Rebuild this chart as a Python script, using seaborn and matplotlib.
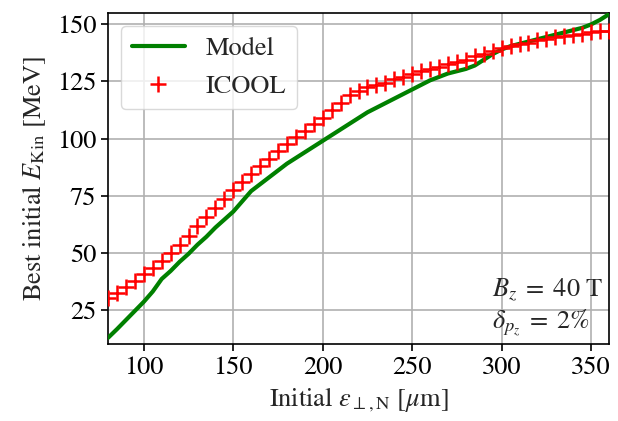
import numpy as np
import pandas as pd
import matplotlib
matplotlib.use("Agg")
import matplotlib.pyplot as plt
import seaborn as sns

# Initial normalised transverse emittance [um]
emittance = list(range(80, 361, 5))

# Analytical model: best initial kinetic energy [MeV]
model_ekin = [12.7, 16.5, 20.5, 24.5, 28.5, 33.0, 38.5, 42.0, 46.0, 49.5,
              53.5, 57.0, 61.0, 64.5, 68.0, 72.5, 77.0, 80.0, 83.0, 86.0,
              89.0, 91.5, 94.0, 96.5, 99.0, 101.5, 104.0, 106.5, 109.0, 111.5,
              113.5, 115.5, 117.5, 119.5, 121.5, 123.5, 125.5, 127.0, 128.5, 129.5,
              130.5, 132.0, 134.5, 137.0, 139.0, 140.5, 141.5, 142.5, 143.5, 144.5,
              145.5, 146.5, 147.5, 148.5, 150.0, 152.0, 154.5]

# ICOOL tracking: best initial kinetic energy [MeV]
icool_ekin = [30.0, 32.5, 35.0, 37.5, 40.5, 43.5, 46.5, 50.0, 53.5, 57.5,
              61.5, 65.5, 69.5, 73.5, 77.5, 81.0, 84.5, 88.0, 91.0, 94.5,
              97.5, 100.5, 103.5, 106.5, 109.0, 112.5, 115.5, 119.0, 121.0, 122.5,
              123.5, 124.5, 126.0, 127.0, 128.5, 129.5, 130.5, 131.5, 132.5, 133.5,
              134.5, 136.0, 137.0, 138.5, 139.5, 140.5, 141.5, 142.0, 143.0, 143.5,
              144.5, 145.0, 145.5, 146.0, 146.5, 147.0, 147.0]

x_ticks = [100, 150, 200, 250, 300, 350]
y_ticks = [25, 50, 75, 100, 125, 150]

sns.set_style("ticks")
plt.rcParams.update({
    "font.family": ["STIXGeneral", "DejaVu Serif"],
    "mathtext.fontset": "stix",
    "font.size": 19,
    "axes.linewidth": 1.2,
    "xtick.major.width": 1.2,
    "ytick.major.width": 1.2,
    "xtick.major.size": 5,
    "ytick.major.size": 5,
    "xtick.color": "black",
    "ytick.color": "black",
    "axes.edgecolor": "black",
})

df = pd.DataFrame({"eps": emittance, "model": model_ekin, "icool": icool_ekin})

fig = plt.figure(figsize=(6.18, 4.21), dpi=100)
ax = fig.add_axes([0.1748, 0.1829, 0.8106, 0.7862])

sns.lineplot(data=df, x="eps", y="model", ax=ax, color="green", lw=3,
             label="Model", zorder=3)
sns.lineplot(data=df, x="eps", y="icool", ax=ax, color="red", linestyle="",
             marker="+", markersize=11, markeredgewidth=1.8,
             markeredgecolor="red", markerfacecolor="red", label="ICOOL",
             zorder=4)

ax.set_xlim(80, 360)
ax.set_ylim(10, 155)
ax.set_xticks(x_ticks)
ax.set_yticks(y_ticks)
ax.grid(True, color="#b0b0b0", lw=1.2)
ax.set_axisbelow(True)

ax.set_xlabel(r"Initial $\varepsilon_{\perp,\mathrm{N}}$ [$\mu$m]", fontsize=19,
              labelpad=4)
ax.set_ylabel(r"Best initial $E_{\mathrm{Kin}}$ [MeV]", fontsize=19, labelpad=6)
ax.tick_params(labelsize=19)

leg = ax.legend(loc="upper left", fontsize=19, framealpha=0.8,
                edgecolor="#d0d0d0", handlelength=2.0, borderpad=0.4,
                borderaxespad=0.5)

ax.text(0.766, 0.163, r"$B_z \;=\; 40\ \mathrm{T}$", transform=ax.transAxes,
        ha="left", va="center", fontsize=19)
ax.text(0.766, 0.066, r"$\delta_{p_z} \;=\; 2\%$", transform=ax.transAxes,
        ha="left", va="center", fontsize=19)

fig.savefig("out.png", dpi=100)
